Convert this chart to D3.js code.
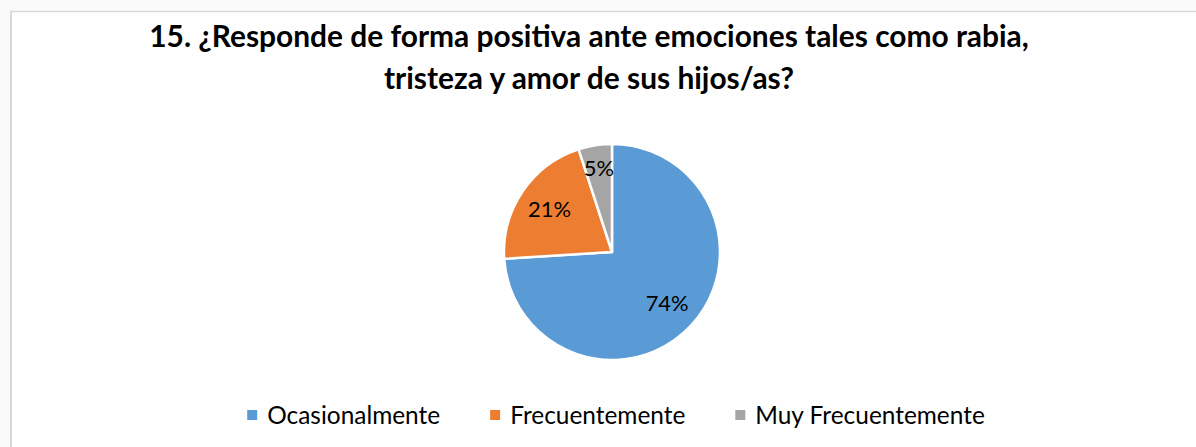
<!DOCTYPE html>
<html>
<head>
<meta charset="utf-8">
<script src="https://cdn.jsdelivr.net/npm/d3@7"></script>
<style>
  html,body{margin:0;padding:0;background:#fafafa;}
  svg{display:block;}
  text{font-family:Lato,"Open Sans","DejaVu Sans",sans-serif;}
</style>
</head>
<body>
<svg id="chart" width="1196" height="447"></svg>
<script>
/* ===== Data ===== */
const categories = ['Ocasionalmente', 'Frecuentemente', 'Muy Frecuentemente'];
const values = [74, 21, 5];
const valueLabels = ['74%', '21%', '5%'];
const colors = ['#5B9BD5', '#ED7D31', '#A5A5A5'];
const titleLines = [
  '15. ¿Responde de forma positiva ante emociones tales como rabia,',
  'tristeza y amor de sus hijos/as?'
];

/* ===== Setup ===== */
const svg = d3.select('#chart');
const W = 1196, H = 447;

// chart area (white) with light border on top/left
svg.append('rect').attr('x', 11).attr('y', 11).attr('width', W - 11).attr('height', H - 11).attr('fill', '#fff');
svg.append('line').attr('x1', 10).attr('x2', W).attr('y1', 11.5).attr('y2', 11.5).attr('stroke', '#d9d9d9').attr('stroke-width', 1.5);
svg.append('line').attr('x1', 11).attr('x2', 11).attr('y1', 11).attr('y2', H).attr('stroke', '#d9d9d9').attr('stroke-width', 2);

// fit font size so a text gets a target width
function fitSize(txt, target, weight){
  const t = svg.append('text').attr('font-size', 100).attr('font-weight', weight || 'normal').text(txt);
  const w = t.node().getComputedTextLength();
  t.remove();
  return 100 * target / w;
}

/* ===== Title ===== */
const titleSize = fitSize(titleLines[0], 880, 'bold');
const titleX = 589;
const titleY = [47, 89];
svg.selectAll('.title').data(titleLines).enter().append('text')
  .attr('class', 'title')
  .attr('x', titleX).attr('y', (d, i) => titleY[i])
  .attr('text-anchor', 'middle')
  .attr('font-weight', 'bold')
  .attr('font-size', titleSize)
  .attr('fill', '#000')
  .text(d => d);

/* ===== Pie ===== */
const cx = 612, cy = 252, R = 108;
const data = categories.map((c, i) => ({cat: c, val: values[i], lab: valueLabels[i], col: colors[i]}));
const pie = d3.pie().sort(null).value(d => d.val);
const arcs = pie(data);
const arc = d3.arc().innerRadius(0).outerRadius(R);
const g = svg.append('g').attr('transform', `translate(${cx},${cy})`);

g.selectAll('path').data(arcs).enter().append('path')
  .attr('d', arc)
  .attr('fill', d => d.data.col)
  .attr('stroke', '#fff')
  .attr('stroke-width', 2.5)
  .attr('stroke-linejoin', 'round');

const labSize = fitSize('74%', 43);
g.selectAll('.lab').data(arcs).enter().append('text')
  .attr('class', 'lab')
  .attr('transform', d => {
    const span = d.endAngle - d.startAngle;
    const r = span < 0.5 ? R * 0.78 : R * 0.7;   // narrow slices sit closer to the rim
    const a = (d.startAngle + d.endAngle) / 2;
    return `translate(${Math.sin(a) * r},${-Math.cos(a) * r})`;
  })
  .attr('text-anchor', 'middle')
  .attr('dy', '0.35em')
  .attr('font-size', labSize)
  .attr('fill', '#000')
  .text(d => d.data.lab);

/* ===== Legend ===== */
const legSize = fitSize(categories[0], 173);
const legY = 415, sq = 10, sqGap = 10, itemGap = 50;
const leg = svg.append('g');
const items = leg.selectAll('.item').data(data).enter().append('g').attr('class', 'item');
items.append('rect').attr('width', sq).attr('height', sq).attr('y', legY - sq / 2).attr('fill', d => d.col);
items.append('text')
  .attr('x', sq + sqGap).attr('y', legY).attr('dy', '0.35em')
  .attr('font-size', legSize).attr('fill', '#000')
  .text(d => d.cat);

let xPos = 0;
items.each(function(){
  const w = d3.select(this).select('text').node().getComputedTextLength();
  d3.select(this).attr('transform', `translate(${xPos},0)`);
  xPos += sq + sqGap + w + itemGap;
});
const total = xPos - itemGap;
leg.attr('transform', `translate(${616 - total / 2},0)`);
</script>
</body>
</html>
